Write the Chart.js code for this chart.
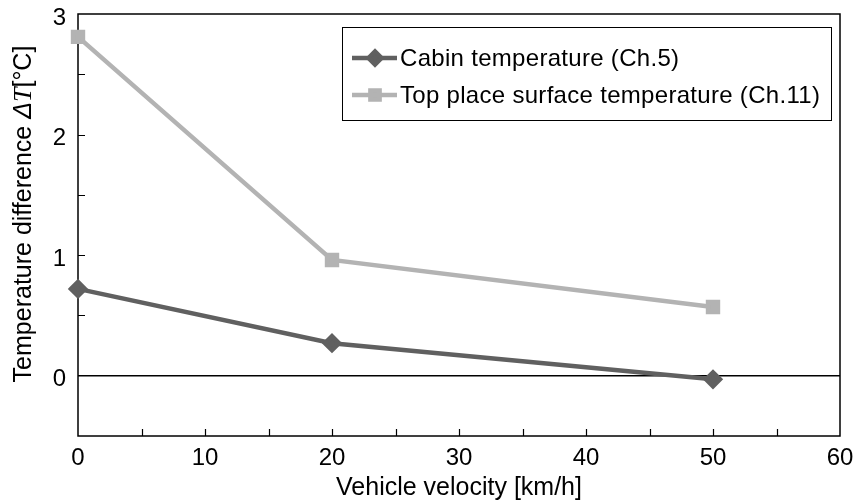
<!DOCTYPE html>
<html><head><meta charset="utf-8">
<script src="https://cdn.jsdelivr.net/npm/chart.js@4/dist/chart.umd.min.js"></script>
<style>html,body{margin:0;padding:0;background:#fff}#wrap{width:859px;height:504px;position:relative}</style>
</head><body><div id="wrap"><canvas id="c" width="859" height="504"></canvas></div>
<script>
const velocities = [0, 20, 50];
const cabinTemp = [0.72, 0.27, -0.03];
const topSurfaceTemp = [2.81, 0.96, 0.57];
const seriesNames = ['Cabin temperature (Ch.5)', 'Top place surface temperature (Ch.11)'];
const xTickLabels = [0, 10, 20, 30, 40, 50, 60];
const yTickLabels = [0, 1, 2, 3];
const xMinorTicks = [5, 10, 15, 20, 25, 30, 35, 40, 45, 50, 55];
const yMinorTicks = [0.5, 1, 1.5, 2, 2.5];

const DARK = '#606060', LIGHT = '#b3b3b3';
const FONT = '"Liberation Sans", Arial, sans-serif';

const framePlugin = {
  id: 'frame',
  beforeDatasetsDraw(chart) {
    const {ctx, chartArea: a, scales: {x, y}} = chart;
    ctx.save();
    ctx.strokeStyle = '#000';
    ctx.lineWidth = 1.5;
    ctx.strokeRect(a.left, a.top, a.right - a.left, a.bottom - a.top);
    ctx.lineWidth = 1.2;
    ctx.beginPath();
    xMinorTicks.forEach(v => { const px = Math.round(x.getPixelForValue(v)) + 0.5; ctx.moveTo(px, a.bottom); ctx.lineTo(px, a.bottom - 7); });
    yMinorTicks.forEach(v => { const py = Math.round(y.getPixelForValue(v)) + 0.5; ctx.moveTo(a.left, py); ctx.lineTo(a.left + 7, py); });
    ctx.stroke();
    ctx.restore();
  },
  afterDraw(chart) {
    const {ctx} = chart;
    ctx.save();
    // y-axis title
    ctx.translate(24, 214);
    ctx.rotate(-Math.PI / 2);
    const parts = [
      ['Temperature difference ', '25px ' + FONT],
      ['\u0394', 'italic 25px ' + FONT],
      ['T', 'italic 26px "Liberation Serif", serif'],
      ['[\u00B0C]', '25px ' + FONT]
    ];
    let total = 0;
    parts.forEach(p => { ctx.font = p[1]; total += ctx.measureText(p[0]).width; });
    let cx = -total / 2;
    ctx.fillStyle = '#000';
    ctx.textBaseline = 'middle';
    parts.forEach(p => { ctx.font = p[1]; ctx.fillText(p[0], cx, 0); cx += ctx.measureText(p[0]).width; });
    ctx.restore();

    // legend box
    ctx.save();
    const bx = 342, by = 27, bw = 489, bh = 93;
    ctx.strokeStyle = '#000';
    ctx.lineWidth = 1;
    ctx.strokeRect(bx + 0.5, by + 0.5, bw, bh);
    chart.data.datasets.forEach((ds, i) => {
      const ry = by + 31 + i * 37;
      ctx.strokeStyle = ds.borderColor;
      ctx.lineWidth = ds.borderWidth;
      ctx.beginPath(); ctx.moveTo(352, ry); ctx.lineTo(397, ry); ctx.stroke();
      ctx.fillStyle = ds.pointBackgroundColor;
      ctx.strokeStyle = ds.pointBorderColor;
      Chart.helpers.drawPoint(ctx, {pointStyle: ds.pointStyle, rotation: 0, radius: ds.pointRadius - 0.5, borderWidth: 1}, 375, ry);
      ctx.fillStyle = '#000';
      ctx.font = '24px ' + FONT;
      if ('letterSpacing' in ctx) ctx.letterSpacing = '0.3px';
      ctx.textBaseline = 'middle';
      ctx.fillText(ds.label, 400, ry + 1);
      if ('letterSpacing' in ctx) ctx.letterSpacing = '0px';
    });
    ctx.restore();
  }
};

const mk = (xs, ys) => xs.map((v, i) => ({x: v, y: ys[i]}));

new Chart(document.getElementById('c'), {
  type: 'scatter',
  data: {
    datasets: [
      {label: seriesNames[0], data: mk(velocities, cabinTemp), showLine: true, borderColor: DARK, borderWidth: 4.5,
       pointStyle: 'rectRot', pointRadius: 7, pointBackgroundColor: DARK, pointBorderColor: DARK, clip: false},
      {label: seriesNames[1], data: mk(velocities, topSurfaceTemp), showLine: true, borderColor: LIGHT, borderWidth: 4.5,
       pointStyle: 'rect', pointRadius: 7, pointBackgroundColor: LIGHT, pointBorderColor: LIGHT, clip: false}
    ]
  },
  options: {
    responsive: false, animation: false, devicePixelRatio: 1,
    layout: {padding: {left: 0, top: 14, right: 19, bottom: 0}},
    plugins: {legend: {display: false}, tooltip: {enabled: false}},
    scales: {
      x: {
        type: 'linear', min: 0, max: 60,
        afterFit: s => { s.height = 68; s.paddingLeft = 0; s.paddingRight = 0; },
        afterBuildTicks: s => { s.ticks = xTickLabels.map(v => ({value: v})); },
        grid: {display: false, drawTicks: false},
        border: {display: false},
        ticks: {color: '#000', font: {size: 24, family: FONT}, padding: 8, maxRotation: 0},
        title: {display: true, text: 'Vehicle velocity [km/h]', color: '#000', font: {size: 25, family: FONT}, padding: {top: 0, bottom: 1}}
      },
      y: {
        type: 'linear', min: -0.5, max: 3,
        afterFit: s => { s.width = 78; s.paddingTop = 0; s.paddingBottom = 0; },
        afterBuildTicks: s => { s.ticks = yTickLabels.map(v => ({value: v})); },
        grid: {drawTicks: false, lineWidth: 1.5, color: c => (c.tick && c.tick.value === 0) ? '#000' : 'rgba(0,0,0,0)'},
        border: {display: false},
        ticks: {color: '#000', font: {size: 24, family: FONT}, padding: 12, labelOffset: 4}
      }
    }
  },
  plugins: [framePlugin]
});
</script></body></html>
